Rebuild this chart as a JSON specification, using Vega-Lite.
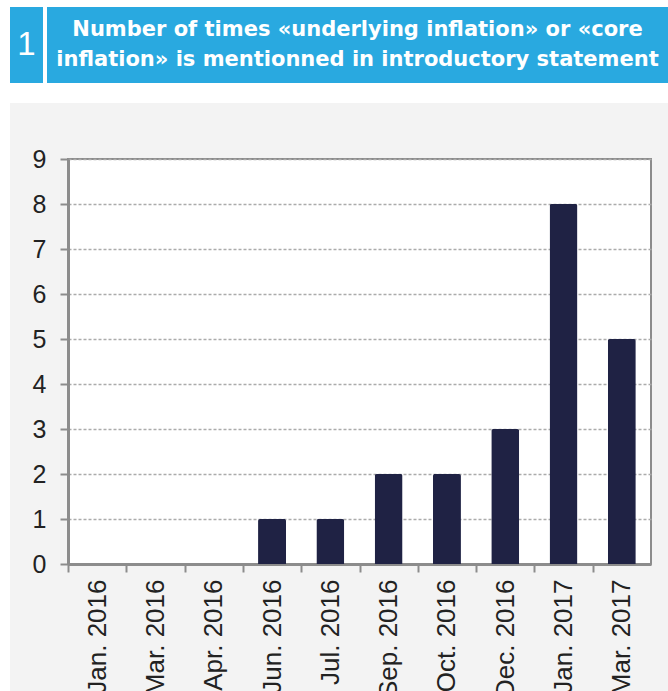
{
  "$schema": "https://vega.github.io/schema/vega-lite/v6.json",
  "background": "#f3f3f3",
  "padding": 0,
  "bounds": "full",
  "spacing": 0,
  "config": {"view": {"stroke": null}, "font": "Liberation Sans"},
  "datasets": {
    "counts": [
      {"month": "Jan. 2016", "count": 0},
      {"month": "Mar. 2016", "count": 0},
      {"month": "Apr. 2016", "count": 0},
      {"month": "Jun. 2016", "count": 1},
      {"month": "Jul. 2016", "count": 1},
      {"month": "Sep. 2016", "count": 2},
      {"month": "Oct. 2016", "count": 2},
      {"month": "Dec. 2016", "count": 3},
      {"month": "Jan. 2017", "count": 8},
      {"month": "Mar. 2017", "count": 5}
    ],
    "blank": [{"t": ""}],
    "title": [{"lines": ["Number of times «underlying inflation» or «core", "inflation» is mentionned in introductory statement"]}],
    "num": [{"n": "1"}]
  },
  "vconcat": [
    {
      "width": 668, "height": 7,
      "data": {"name": "blank"},
      "mark": {"type": "text", "text": "", "fontSize": 0},
      "view": {"fill": "white", "stroke": null}
    },
    {
      "hconcat": [
        {
          "width": 10, "height": 76,
          "data": {"name": "blank"},
          "mark": {"type": "text", "text": "", "fontSize": 0},
          "view": {"fill": "white", "stroke": null}
        },
        {
          "width": 33, "height": 76,
          "data": {"name": "num"},
          "mark": {"type": "text", "color": "white", "fontSize": 33, "font": "Liberation Sans", "fontWeight": "normal", "baseline": "middle", "align": "center"},
          "encoding": {"text": {"field": "n"}},
          "view": {"fill": "#29a9e0", "stroke": null}
        },
        {
          "width": 4, "height": 76,
          "data": {"name": "blank"},
          "mark": {"type": "text", "text": "", "fontSize": 0},
          "view": {"fill": "white", "stroke": null}
        },
        {
          "width": 621, "height": 76,
          "data": {"name": "title"},
          "mark": {"type": "text", "color": "white", "fontSize": 21, "font": "DejaVu Sans", "fontWeight": "bold", "baseline": "middle", "align": "center", "lineHeight": 30, "dy": -15},
          "encoding": {"text": {"field": "lines"}},
          "view": {"fill": "#29a9e0", "stroke": null}
        }
      ],
      "spacing": 0,
      "bounds": "flush"
    },
    {
      "width": 668, "height": 20,
      "data": {"name": "blank"},
      "mark": {"type": "text", "text": "", "fontSize": 0},
      "view": {"fill": "white", "stroke": null}
    },
    {
      "hconcat": [
        {
          "width": 10, "height": 588,
          "data": {"name": "blank"},
          "mark": {"type": "text", "text": "", "fontSize": 0},
          "view": {"fill": "white", "stroke": null}
        },
        {
          "vconcat": [
            {
              "width": 583, "height": 56,
              "data": {"name": "blank"},
              "mark": {"type": "text", "text": "", "fontSize": 0},
              "view": {"fill": null, "stroke": null}
            },
            {
              "width": 583, "height": 405,
              "data": {"name": "counts"},
              "view": {"fill": "white", "stroke": "#8c8c8c", "strokeWidth": 2},
              "mark": {"type": "bar", "color": "#1f2244", "cornerRadiusTopLeft": 2, "cornerRadiusTopRight": 2},
              "encoding": {
                "x": {
                  "field": "month", "type": "nominal", "sort": null,
                  "scale": {"paddingInner": 0.52, "paddingOuter": 0.26},
                  "axis": {
                    "title": null,
                    "labelAngle": -90, "labelAlign": "right", "labelBaseline": "middle",
                    "labelFontSize": 26, "labelColor": "#222222", "labelFont": "Liberation Sans",
                    "labelPadding": 7,
                    "tickOffset": -29.15, "labelOffset": 29.15,
                    "tickSize": 8, "tickWidth": 2, "tickColor": "#8c8c8c",
                    "domainColor": "#8c8c8c", "domainWidth": 3,
                    "grid": false
                  }
                },
                "y": {
                  "field": "count", "type": "quantitative",
                  "scale": {"domain": [0, 9], "nice": false},
                  "axis": {
                    "title": null,
                    "values": [0, 1, 2, 3, 4, 5, 6, 7, 8, 9],
                    "labelFontSize": 25, "labelColor": "#222222", "labelFont": "Liberation Sans",
                    "labelPadding": 14,
                    "tickSize": 8, "tickWidth": 2, "tickColor": "#8c8c8c",
                    "domainColor": "#8c8c8c", "domainWidth": 3,
                    "grid": true, "gridColor": "#ababab", "gridDash": [3, 2], "gridWidth": 1.5
                  }
                }
              }
            }
          ],
          "spacing": 0,
          "bounds": "flush"
        }
      ],
      "spacing": 21,
      "bounds": "full"
    }
  ]
}
